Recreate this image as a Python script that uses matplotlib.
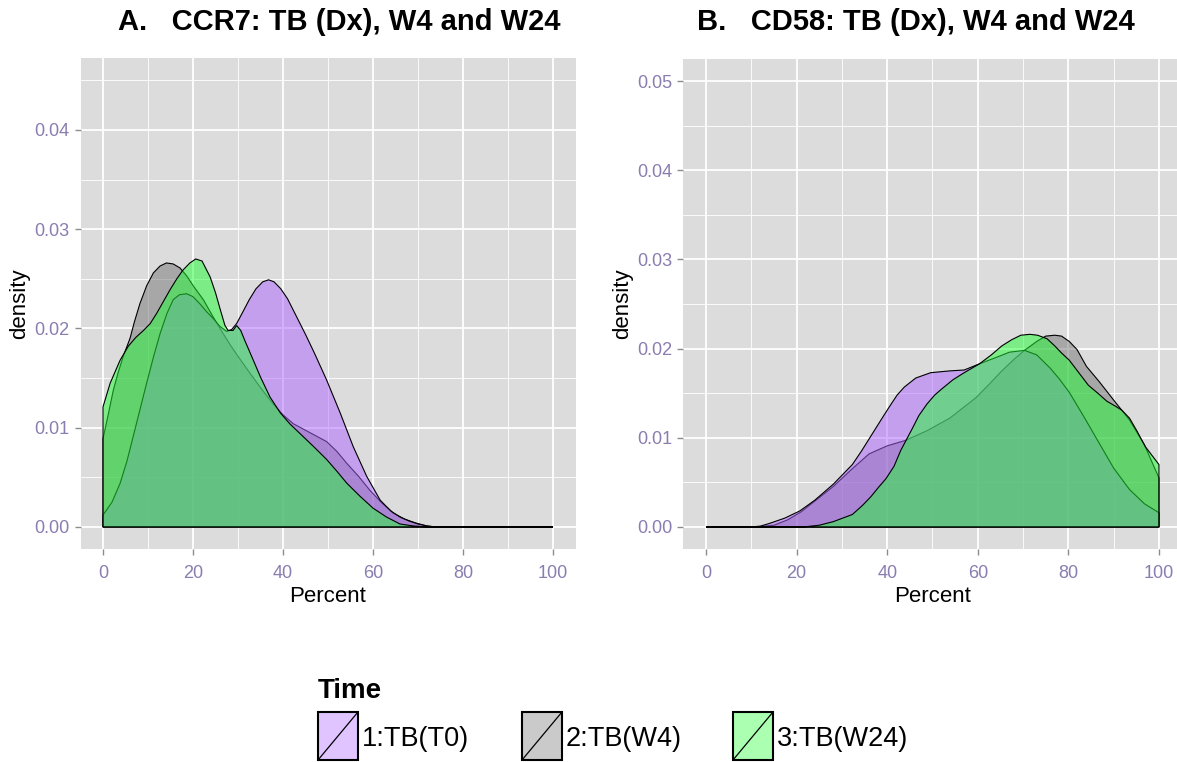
import numpy as np
import matplotlib
matplotlib.use("Agg")
import matplotlib.pyplot as plt
from matplotlib.patches import Rectangle
from matplotlib.lines import Line2D
from matplotlib.colors import to_rgba
from matplotlib.ticker import MultipleLocator, FormatStrFormatter

plt.rcParams["font.family"] = ["Liberation Sans", "DejaVu Sans"]

groups = ["1:TB(T0)", "2:TB(W4)", "3:TB(W24)"]
fills = ["#ac64ff", "#747474", "#1eff32"]
fill_alpha = 0.5
# gray goes down first, then purple, green on top
draw_order = [1, 0, 2]

# CCR7 densities (percent -> density)
ccr7_t0_x = [0, 2, 3.8, 5.3, 6.7, 8.2, 9.7, 11.2, 12.7, 14.2, 15.6, 17, 18.6, 20, 21.5, 23, 24.5, 26,
             27.5, 28.6, 29.7, 31, 32.5, 34, 35.5, 36.8, 38, 39.5, 41, 43, 45, 47, 49.7, 52.7, 55.6,
             58.6, 61.6, 64, 66, 68, 70, 72, 74, 100]
ccr7_t0_y = [0.0012, 0.0025, 0.0044, 0.0066, 0.0091, 0.0118, 0.0145, 0.0171, 0.0195, 0.0215, 0.0229,
             0.0234, 0.0235, 0.0232, 0.0225, 0.0217, 0.0210, 0.0202, 0.0197, 0.0199, 0.0205, 0.0216,
             0.0229, 0.0240, 0.0247, 0.0249, 0.0247, 0.0240, 0.0230, 0.0212, 0.0194, 0.0175, 0.0148,
             0.0115, 0.0081, 0.0051, 0.0027, 0.0016, 0.0010, 0.0006, 0.0003, 0.0001, 0.0, 0.0]

ccr7_w4_x = [0, 1.2, 2.3, 3.4, 4.5, 6, 7, 8.2, 9.7, 11.2, 12.7, 14.1, 15.6, 17.1, 18.6, 20.2, 22.3,
             24.3, 26.4, 28.2, 30, 32.5, 34.9, 37.8, 40, 42.3, 46, 49.7, 52, 54.2, 56.8, 59.3, 62,
             64.5, 67, 69.5, 72, 74, 100]
ccr7_w4_y = [0.0089, 0.0114, 0.0138, 0.0156, 0.0172, 0.0190, 0.0207, 0.0225, 0.0243, 0.0256, 0.0263,
             0.0266, 0.0265, 0.0261, 0.0253, 0.0242, 0.0229, 0.0213, 0.0197, 0.0184, 0.0172, 0.0156,
             0.0141, 0.0124, 0.0113, 0.0104, 0.0095, 0.0086, 0.0076, 0.0064, 0.0051, 0.0037, 0.0024,
             0.0014, 0.0008, 0.0004, 0.0001, 0.0, 0.0]

ccr7_w24_x = [0, 1.6, 3.8, 5.6, 7.3, 9, 10.5, 11.9, 13.4, 14.9, 16.4, 17.8, 19.3, 20.6, 22, 23.8, 25,
              26, 27.1, 27.8, 28.9, 29.7, 30.6, 31.5, 33.4, 35, 37.1, 39.4, 41.5, 43.8, 46.8, 49.7,
              52, 54.2, 57.1, 60, 63, 66, 69, 72, 100]
ccr7_w24_y = [0.0121, 0.0145, 0.0168, 0.0182, 0.0191, 0.0198, 0.0205, 0.0215, 0.0227, 0.0239, 0.0250,
              0.0259, 0.0266, 0.0270, 0.0268, 0.0252, 0.0236, 0.0220, 0.0203, 0.0198, 0.0198, 0.0203,
              0.0198, 0.0188, 0.0168, 0.0151, 0.0131, 0.0115, 0.0104, 0.0094, 0.0081, 0.0068, 0.0056,
              0.0044, 0.0031, 0.0019, 0.0010, 0.0003, 0.0001, 0.0, 0.0]

# CD58 densities
cd58_t0_x = [0, 10, 12, 14, 17.4, 20.7, 24, 28.1, 32.3, 34.3, 36.4, 38.5, 40.5, 42.2, 43.8, 46.3,
             49.6, 53.8, 57, 60.4, 64, 67, 70.3, 73, 76, 78, 80.2, 83.5, 86.8, 90, 93.5, 96.8, 100]
cd58_t0_y = [0, 0, 0.0001, 0.0004, 0.0010, 0.0018, 0.0030, 0.0048, 0.0070, 0.0085, 0.0102, 0.0119,
             0.0135, 0.0148, 0.0157, 0.0167, 0.0173, 0.0175, 0.0176, 0.0183, 0.0190, 0.0196, 0.0198,
             0.0193, 0.0178, 0.0166, 0.0151, 0.0123, 0.0094, 0.0066, 0.0042, 0.0026, 0.0016]

cd58_w4_x = [0, 11, 15, 18, 21, 24, 28, 32, 36, 40, 44, 48.8, 53.8, 59.6, 62.5, 65.3, 68, 70.3, 73,
             75, 77, 78.5, 80.2, 81.9, 84, 86.8, 88.5, 90.2, 93.5, 96.8, 100]
cd58_w4_y = [0, 0, 0.0002, 0.0008, 0.0017, 0.0029, 0.0045, 0.0064, 0.0082, 0.0091, 0.0097, 0.0108,
             0.0122, 0.0145, 0.0160, 0.0175, 0.0188, 0.0198, 0.0208, 0.0214, 0.0215, 0.0214, 0.0208,
             0.0199, 0.0180, 0.0163, 0.0152, 0.0141, 0.0120, 0.0092, 0.0055]

cd58_w24_x = [0, 21.5, 25, 28.1, 32.3, 34.5, 36.4, 38, 39.7, 41.5, 43, 45.5, 47, 48.8, 50.5, 52.1,
              54.5, 57, 60.4, 63, 65.3, 67.5, 69.5, 71.5, 73.2, 75.3, 77, 78.5, 80.2, 82, 84.4,
              86.5, 88.5, 90.2, 91.8, 93.5, 95.1, 97, 100]
cd58_w24_y = [0, 0, 0.0002, 0.0006, 0.0014, 0.0024, 0.0034, 0.0044, 0.0054, 0.0068, 0.0086, 0.0110,
              0.0125, 0.0138, 0.0148, 0.0155, 0.0165, 0.0173, 0.0183, 0.0193, 0.0203, 0.0210, 0.0215,
              0.0216, 0.0215, 0.0211, 0.0203, 0.0195, 0.0187, 0.0175, 0.0159, 0.0150, 0.0141, 0.0136,
              0.0131, 0.0122, 0.0108, 0.0090, 0.0070]

panels = [
    {"title": "A.   CCR7: TB (Dx), W4 and W24", "ymax": 0.045,
     "curves": [(ccr7_t0_x, ccr7_t0_y), (ccr7_w4_x, ccr7_w4_y), (ccr7_w24_x, ccr7_w24_y)]},
    {"title": "B.   CD58: TB (Dx), W4 and W24", "ymax": 0.05,
     "curves": [(cd58_t0_x, cd58_t0_y), (cd58_w4_x, cd58_w4_y), (cd58_w24_x, cd58_w24_y)]},
]

W, H = 1177, 762
fig = plt.figure(figsize=(W / 100, H / 100), dpi=100)


def box(left, top, right, bottom):
    return [left / W, 1 - bottom / H, (right - left) / W, (bottom - top) / H]


axes_boxes = [box(80.5, 58, 575.5, 549.3), box(683.4, 58.7, 1181.6, 549.3)]
title_x = [339, 916]

for p, rect, tx in zip(panels, axes_boxes, title_x):
    ax = fig.add_axes(rect)
    ax.set_facecolor("#dcdcdc")
    for i in draw_order:
        xs, ys = p["curves"][i]
        px = np.concatenate([[xs[0]], xs, [xs[-1]]])
        py = np.concatenate([[0], ys, [0]])
        ax.fill(px, py, facecolor=to_rgba(fills[i], fill_alpha), edgecolor="black", lw=0.8, zorder=3)
    ymax = p["ymax"]
    ax.set_xlim(-5, 105)
    ax.set_ylim(-0.05 * ymax, 1.05 * ymax)
    ax.xaxis.set_major_locator(MultipleLocator(20))
    ax.xaxis.set_minor_locator(MultipleLocator(10))
    ax.yaxis.set_major_locator(MultipleLocator(0.01))
    ax.yaxis.set_minor_locator(MultipleLocator(0.005))
    ax.yaxis.set_major_formatter(FormatStrFormatter("%.2f"))
    ax.grid(which="major", color="white", lw=1.3, zorder=1)
    ax.grid(which="minor", color="white", lw=0.6, zorder=1)
    ax.set_axisbelow(True)
    for s in ax.spines.values():
        s.set_visible(False)
    ax.tick_params(which="major", length=4, width=1, color="#8c8c8c",
                   labelcolor="#8a7db0", labelsize=13, pad=4)
    ax.tick_params(axis="x", which="major", pad=7)
    ax.tick_params(which="minor", length=0)
    ax.set_xlabel("Percent", fontsize=16, labelpad=3)
    ax.set_ylabel("density", fontsize=16, labelpad=3)
    fig.text(tx / W, 1 - 22 / H, p["title"], ha="center", va="center",
             fontsize=21, fontweight="bold")

# legend at the bottom
fig.text(318 / W, 1 - 691 / H, "Time", ha="left", va="center", fontsize=20, fontweight="bold")
key_left = [318, 522, 733]
for g, c, kx in zip(groups, fills, key_left):
    fig.add_artist(Rectangle((kx / W, 1 - 760 / H), 40 / W, 48 / H, transform=fig.transFigure,
                             facecolor=to_rgba(c, fill_alpha * 0.75), edgecolor="black", lw=1.5))
    fig.add_artist(Line2D([kx / W, (kx + 40) / W], [1 - 760 / H, 1 - 712 / H],
                          transform=fig.transFigure, color="black", lw=0.9))
    fig.text((kx + 44) / W, 1 - 739 / H, g, ha="left", va="center", fontsize=19.5)

fig.savefig("out.png", dpi=100, facecolor="white")
